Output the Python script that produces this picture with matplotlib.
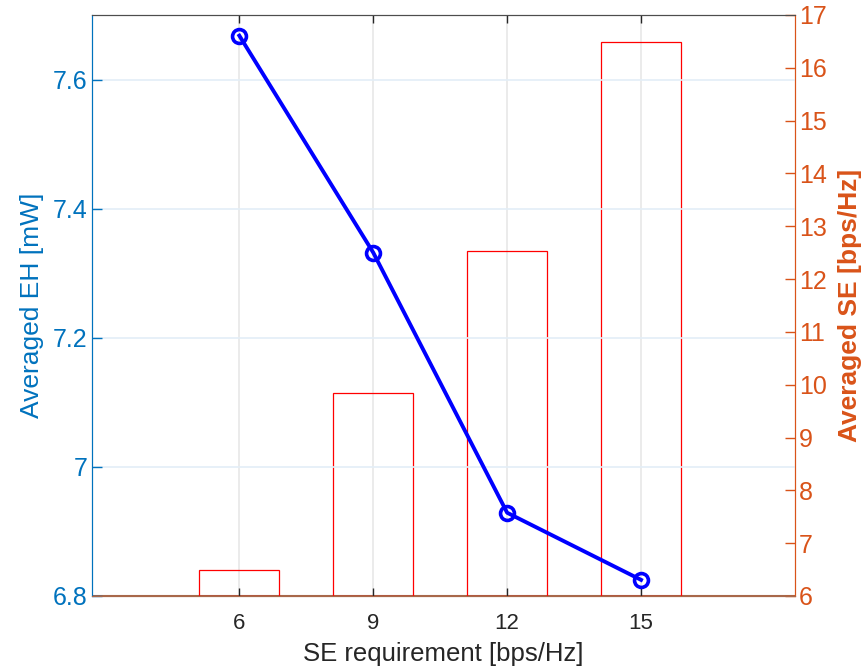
import matplotlib
matplotlib.use('Agg')
import matplotlib.pyplot as plt

plt.rcParams['font.family'] = ['Liberation Sans', 'DejaVu Sans']

se_req = [6, 9, 12, 15]
avg_eh = [7.668, 7.332, 6.929, 6.825]   # mW, left axis
avg_se = [6.49, 9.85, 12.53, 16.49]     # bps/Hz, right axis
xtick_labels = ['6', '9', '12', '15']

blue_ax = '#0072BD'
orange_ax = '#D95319'

fig = plt.figure(figsize=(8.65, 6.72), dpi=100)
ax = fig.add_axes([0.1064, 0.1131, 0.8127, 0.8646])
ax2 = ax.twinx()

# bars on the right axis (behind the line)
ax2.bar(se_req, [v - 6 for v in avg_se], bottom=6, width=1.8,
        facecolor='none', edgecolor='red', linewidth=0.9, zorder=2)
ax2.axhline(6, color='#A8684A', linewidth=1.5, zorder=1)
ax2.set_ylim(6, 17)
ax2.set_yticks(range(6, 18))

# line on the left axis, drawn on top
ax.set_zorder(ax2.get_zorder() + 1)
ax.patch.set_visible(False)
ax.plot(se_req, avg_eh, color='blue', linewidth=2.8, marker='o',
        markersize=10, markerfacecolor='none', markeredgewidth=2.6, zorder=5)
ax.set_ylim(6.8, 7.7)
ax.set_yticks([6.8, 7.0, 7.2, 7.4, 7.6])
ax.set_yticklabels(['6.8', '7', '7.2', '7.4', '7.6'])
ax.set_xlim(2.7, 18.45)
ax.set_xticks(se_req)
ax.set_xticklabels(xtick_labels)

# grid
for x in se_req:
    ax2.axvline(x, color='#E8E8E8', linewidth=1.2, zorder=0)
for y in [7.0, 7.2, 7.4, 7.6]:
    ax.axhline(y, color='#E3EEF7', linewidth=1.2, zorder=0)

# styling
ax.tick_params(axis='x', direction='in', top=True, colors='#262626',
               labelsize=16, length=6, width=1, pad=12)
ax.tick_params(axis='y', direction='in', colors=blue_ax, labelsize=18,
               length=7, width=1)
ax2.tick_params(axis='y', direction='in', colors=orange_ax, labelsize=18,
                length=7, width=1, pad=3)

for a in (ax, ax2):
    a.spines['top'].set_color('#4D4D4D')
    a.spines['bottom'].set_color('#A8684A')
    a.spines['left'].set_color(blue_ax)
    a.spines['right'].set_color(orange_ax)

ax.set_xlabel('SE requirement [bps/Hz]', fontsize=18.5, color='#262626', labelpad=6)
ax.set_ylabel('Averaged EH [mW]', fontsize=19, color=blue_ax, labelpad=6)
ax2.set_ylabel('Averaged SE [bps/Hz]', fontsize=19, color=orange_ax,
               fontweight='bold', labelpad=8)

fig.savefig('out.png', dpi=100)
